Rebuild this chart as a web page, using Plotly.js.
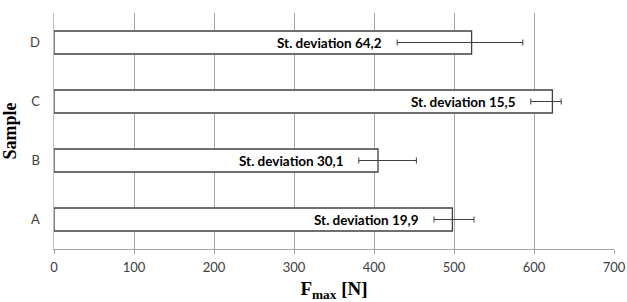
<!DOCTYPE html>
<html>
<head>
<meta charset="utf-8">
<script src="https://cdn.plot.ly/plotly-3.0.1.min.js"></script>
<style>html,body{margin:0;padding:0;background:#fff;}#chart{width:627px;height:302px;}</style>
</head>
<body>
<div id="chart"></div>
<script>
const samples = ['A', 'B', 'C', 'D'];
const fmax = [498, 405, 623, 522];
const errPlus = [27, 48, 11, 64];
const errMinus = [23, 24, 27, 93];
const stDevLabels = ['19,9', '30,1', '15,5', '64,2'];
const xTicks = [0, 100, 200, 300, 400, 500, 600, 700];

const trace = {
  type: 'bar',
  orientation: 'h',
  y: samples,
  x: fmax,
  width: 0.39,
  marker: {color: '#ffffff', line: {color: '#404040', width: 1.3}},
  error_x: {
    type: 'data', symmetric: false,
    array: errPlus, arrayminus: errMinus,
    color: '#404040', thickness: 1, width: 3
  },
  hoverinfo: 'none'
};

const annotations = samples.map((s, i) => ({
  x: fmax[i] - errMinus[i] - 16,
  y: s,
  xref: 'x', yref: 'y',
  xanchor: 'right', yanchor: 'middle',
  text: 'St. deviation ' + stDevLabels[i],
  showarrow: false,
  font: {family: 'Lato, sans-serif', size: 13.5, color: '#000000', weight: 'bold'}
}));

const layout = {
  width: 627, height: 302,
  margin: {l: 54, r: 13, t: 13, b: 53},
  paper_bgcolor: '#ffffff', plot_bgcolor: '#ffffff',
  showlegend: false,
  xaxis: {
    range: [0, 700],
    tickvals: xTicks,
    ticktext: xTicks.map(String),
    showgrid: true, gridcolor: '#a6a6a6', gridwidth: 1,
    showline: true, linecolor: '#a6a6a6', linewidth: 1,
    ticks: 'outside', ticklen: 4, tickcolor: '#a6a6a6',
    zeroline: false,
    tickfont: {family: 'Lato, sans-serif', size: 13, color: '#404040'},
    ticklabelstandoff: 2,
    title: {text: '<b>F<sub>max</sub> [N]</b>', font: {family: 'Liberation Serif, serif', size: 19, color: '#000000'}, standoff: 17}
  },
  yaxis: {
    range: [-0.5, 3.5],
    type: 'category',
    categoryorder: 'array', categoryarray: samples,
    showgrid: false,
    showline: true, linecolor: '#bfbfbf', linewidth: 1.5,
    ticks: '', ticklen: 0,
    zeroline: false,
    tickfont: {family: 'Lato, sans-serif', size: 13, color: '#404040'},
    ticklabelstandoff: 10,
    title: {text: '<b>Sample</b>', font: {family: 'Liberation Serif, serif', size: 18, color: '#000000'}, standoff: 8}
  },
  annotations: annotations
};

Plotly.newPlot('chart', [trace], layout, {displayModeBar: false, staticPlot: true});
</script>
</body>
</html>
